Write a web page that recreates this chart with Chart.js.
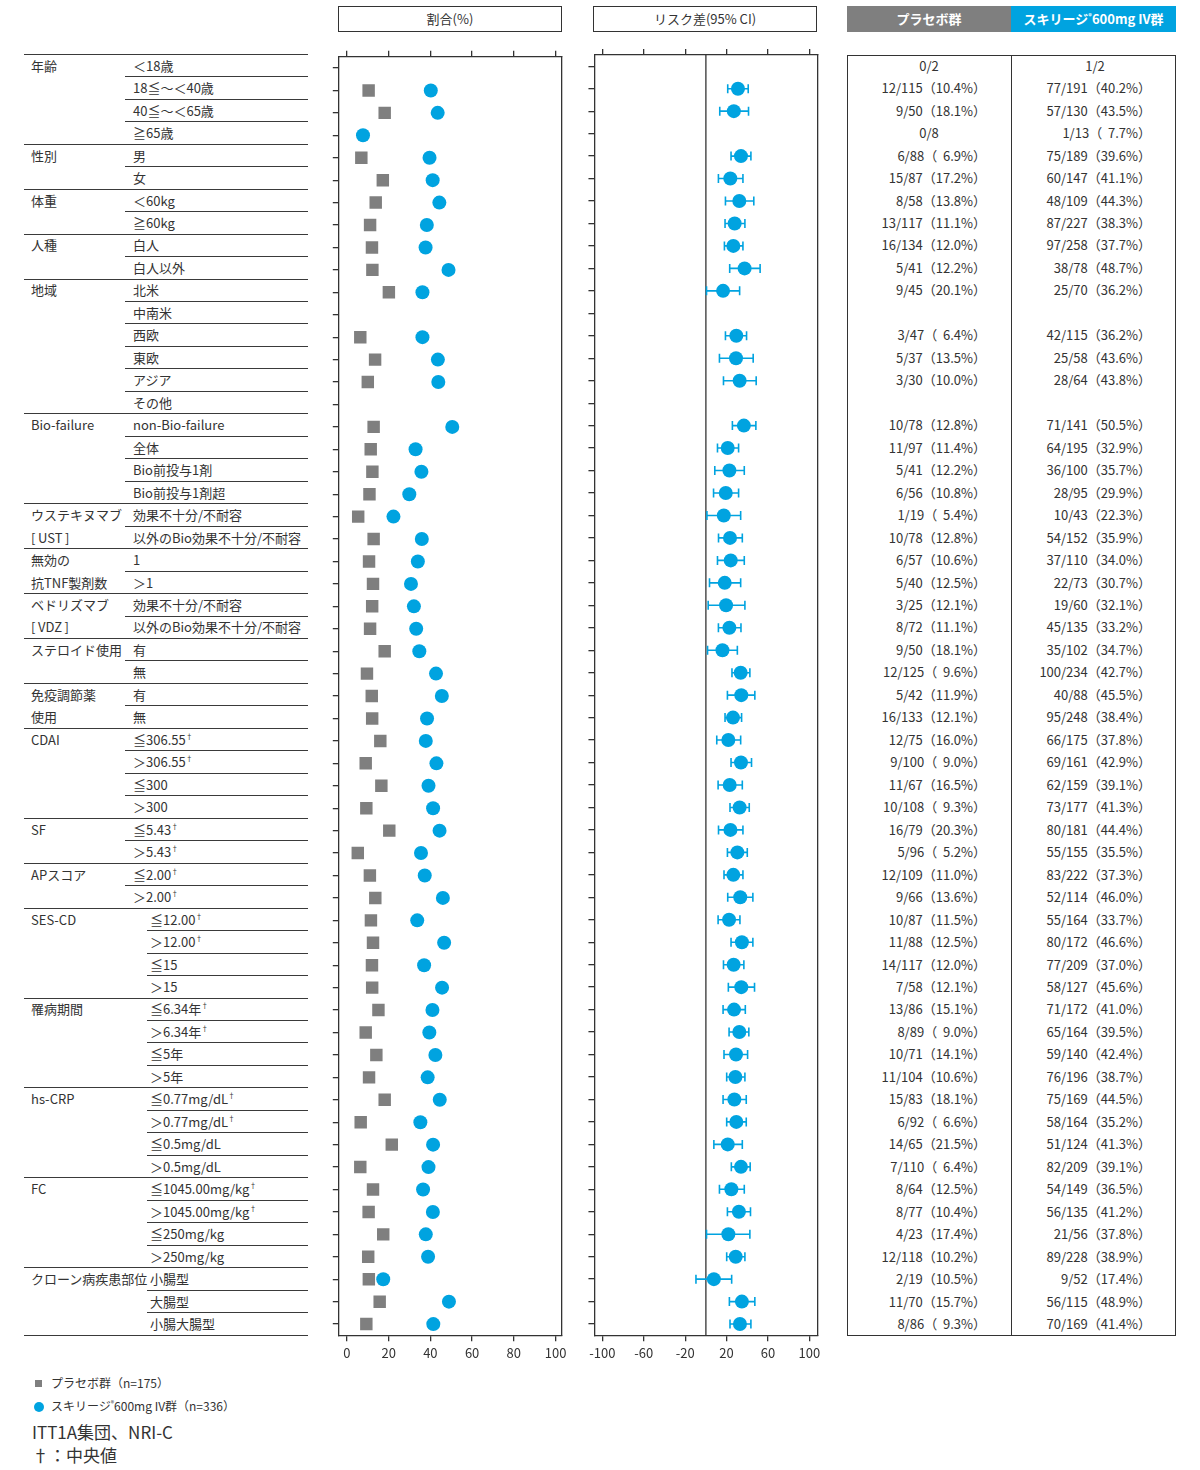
<!DOCTYPE html>
<html lang="ja">
<head>
<meta charset="utf-8">
<script src="https://cdn.jsdelivr.net/npm/chart.js@4.4.1/dist/chart.umd.min.js"></script>
<style>
  body { margin: 0; width: 1200px; height: 1470px; background: #fff; position: relative; overflow: hidden;
         font-family: "Noto Sans CJK JP", "Noto Sans", sans-serif; color: #333; }
  .abs { position: absolute; white-space: nowrap; }
  .cell { position: absolute; white-space: nowrap; font-size: 13px; line-height: 22px; height: 22px; }
  .line { position: absolute; height: 0; border-top: 1.4px solid #3a3a3a; }
  sup { font-size: 7px; vertical-align: 6px; line-height: 0; }
  canvas { position: absolute; }
</style>
</head>
<body>
<div class="abs" style="left:338px;top:6px;width:222px;height:24px;border:1.3px solid #333;text-align:center;line-height:24px;font-size:13px;">割合(%)</div>
<div class="abs" style="left:593px;top:6px;width:222px;height:24px;border:1.3px solid #333;text-align:center;line-height:24px;font-size:13px;">リスク差(95% CI)</div>
<div class="abs" style="left:847px;top:6px;width:164px;height:26px;background:#7f7f7f;color:#fff;font-weight:bold;text-align:center;line-height:26px;font-size:13px;">プラセボ群</div>
<div class="abs" style="left:1011px;top:6px;width:165px;height:26px;background:#00a3e0;color:#fff;font-weight:bold;text-align:center;line-height:26px;font-size:13px;">スキリージ<sup style="vertical-align:5px">®</sup>600mg IV群</div>
<div class="abs" style="left:847px;top:54.5px;width:327px;height:1279px;border:1.4px solid #333;"></div>
<div class="abs" style="left:1011px;top:54.5px;width:0;height:1281px;border-left:1.4px solid #333;"></div>

<div id="labels"></div>
<div id="table"></div>

<canvas id="pct" width="245" height="1316" style="left:330px;top:48px;width:245px;height:1316px;"></canvas>
<canvas id="rd" width="246" height="1316" style="left:585px;top:48px;width:246px;height:1316px;"></canvas>

<div class="abs" style="left:35px;top:1380px;width:7px;height:7px;background:#7f7f7f;"></div>
<div class="abs" style="left:51px;top:1374px;font-size:12px;line-height:18px;">プラセボ群（n=175）</div>
<div class="abs" style="left:34px;top:1402px;width:10px;height:10px;border-radius:50%;background:#00a3e0;"></div>
<div class="abs" style="left:51px;top:1397px;font-size:12px;line-height:18px;">スキリージ<sup style="vertical-align:5px">®</sup>600mg IV群（n=336）</div>
<div class="abs" style="left:32px;top:1420px;font-size:17px;line-height:24px;">ITT1A集団、NRI-C</div>
<div class="abs" style="left:32px;top:1443px;font-size:17px;line-height:24px;">†：中央値</div>

<script>
var rowLabels = ['＜18歳', '18≦～＜40歳', '40≦～＜65歳', '≧65歳', '男', '女', '＜60kg', '≧60kg', '白人', '白人以外',
  '北米', '中南米', '西欧', '東欧', 'アジア', 'その他', 'non-Bio-failure', '全体', 'Bio前投与1剤', 'Bio前投与1剤超',
  '効果不十分/不耐容', '以外のBio効果不十分/不耐容', '1', '＞1', '効果不十分/不耐容', '以外のBio効果不十分/不耐容', '有', '無', '有', '無',
  '≦306.55†', '＞306.55†', '≦300', '＞300', '≦5.43†', '＞5.43†', '≦2.00†', '＞2.00†', '≦12.00†', '＞12.00†',
  '≦15', '＞15', '≦6.34年†', '＞6.34年†', '≦5年', '＞5年', '≦0.77mg/dL†', '＞0.77mg/dL†', '≦0.5mg/dL', '＞0.5mg/dL',
  '≦1045.00mg/kg†', '＞1045.00mg/kg†', '≦250mg/kg', '＞250mg/kg', '小腸型', '大腸型', '小腸大腸型'];

var groupLabels = {0: '年齢', 4: '性別', 6: '体重', 8: '人種', 10: '地域', 16: 'Bio-failure', 20: 'ウステキヌマブ', 21: '[&thinsp;UST&thinsp;]',
  22: '無効の', 23: '抗TNF製剤数', 24: 'ベドリズマブ', 25: '[&thinsp;VDZ&thinsp;]', 26: 'ステロイド使用', 28: '免疫調節薬', 29: '使用',
  30: 'CDAI', 34: 'SF', 36: 'APスコア', 38: 'SES-CD', 42: '罹病期間', 46: 'hs-CRP', 50: 'FC', 54: 'クローン病疾患部位'};
var groupStarts = [0, 4, 6, 8, 10, 16, 20, 22, 24, 26, 28, 30, 34, 36, 38, 42, 46, 50, 54];
var indentedFrom = 38;

var pboCount = [0, 12, 9, 0, 6, 15, 8, 13, 16, 5, 9, null, 3, 5, 3, null, 10, 11, 5, 6,
  1, 10, 6, 5, 3, 8, 9, 12, 5, 16, 12, 9, 11, 10, 16, 5, 12, 9, 10, 11,
  14, 7, 13, 8, 10, 11, 15, 6, 14, 7, 8, 8, 4, 12, 2, 11, 8];
var pboTotal = [2, 115, 50, 8, 88, 87, 58, 117, 134, 41, 45, null, 47, 37, 30, null, 78, 97, 41, 56,
  19, 78, 57, 40, 25, 72, 50, 125, 42, 133, 75, 100, 67, 108, 79, 96, 109, 66, 87, 88,
  117, 58, 86, 89, 71, 104, 83, 92, 65, 110, 64, 77, 23, 118, 19, 70, 86];
var pboPct = [null, 10.4, 18.1, null, 6.9, 17.2, 13.8, 11.1, 12.0, 12.2, 20.1, null, 6.4, 13.5, 10.0, null, 12.8, 11.4, 12.2, 10.8,
  5.4, 12.8, 10.6, 12.5, 12.1, 11.1, 18.1, 9.6, 11.9, 12.1, 16.0, 9.0, 16.5, 9.3, 20.3, 5.2, 11.0, 13.6, 11.5, 12.5,
  12.0, 12.1, 15.1, 9.0, 14.1, 10.6, 18.1, 6.6, 21.5, 6.4, 12.5, 10.4, 17.4, 10.2, 10.5, 15.7, 9.3];

var actCount = [1, 77, 57, 1, 75, 60, 48, 87, 97, 38, 25, null, 42, 25, 28, null, 71, 64, 36, 28,
  10, 54, 37, 22, 19, 45, 35, 100, 40, 95, 66, 69, 62, 73, 80, 55, 83, 52, 55, 80,
  77, 58, 71, 65, 59, 76, 75, 58, 51, 82, 54, 56, 21, 89, 9, 56, 70];
var actTotal = [2, 191, 130, 13, 189, 147, 109, 227, 258, 78, 70, null, 115, 58, 64, null, 141, 195, 100, 95,
  43, 152, 110, 73, 60, 135, 102, 234, 88, 248, 175, 161, 159, 177, 181, 155, 222, 114, 164, 172,
  209, 127, 172, 164, 140, 196, 169, 164, 124, 209, 149, 135, 56, 228, 52, 115, 169];
var actPct = [null, 40.2, 43.5, 7.7, 39.6, 41.1, 44.3, 38.3, 37.7, 48.7, 36.2, null, 36.2, 43.6, 43.8, null, 50.5, 32.9, 35.7, 29.9,
  22.3, 35.9, 34.0, 30.7, 32.1, 33.2, 34.7, 42.7, 45.5, 38.4, 37.8, 42.9, 39.1, 41.3, 44.4, 35.5, 37.3, 46.0, 33.7, 46.6,
  37.0, 45.6, 41.0, 39.5, 42.4, 38.7, 44.5, 35.2, 41.3, 39.1, 36.5, 41.2, 37.8, 38.9, 17.4, 48.9, 41.4];

// risk difference and 95% CI
var riskDiff = [null, 31.0, 27.0, null, 33.9, 23.6, 32.3, 27.8, 26.5, 37.4, 16.6, null, 29.4, 29.1, 32.6, null, 36.7, 21.1, 22.7, 19.2,
  17.3, 23.3, 24.0, 18.2, 19.5, 22.7, 16.0, 33.6, 34.2, 26.2, 21.7, 33.9, 23.0, 32.6, 23.7, 30.4, 26.5, 33.2, 22.4, 34.8,
  26.8, 34.2, 27.2, 32.3, 29.1, 28.5, 27.5, 29.4, 21.1, 33.9, 24.6, 31.9, 21.7, 28.8, 7.7, 34.8, 32.9];
var ciLow = [null, 21.1, 13.4, null, 24.3, 12.1, 18.9, 18.5, 17.9, 23.0, 0.6, null, 18.9, 13.1, 17.0, null, 25.6, 11.2, 8.6, 7.4,
  1.0, 12.2, 11.2, 3.5, 2.2, 12.1, 1.6, 25.2, 20.8, 18.5, 10.5, 24.3, 11.8, 23.3, 12.2, 20.8, 17.5, 21.1, 11.8, 24.3,
  17.0, 21.7, 16.6, 22.4, 17.5, 20.1, 16.6, 20.1, 7.7, 24.6, 13.1, 20.8, 0.6, 20.1, -9.6, 22.7, 23.3];
var ciHigh = [null, 40.9, 41.2, null, 43.5, 35.8, 46.3, 37.7, 35.8, 52.4, 32.6, null, 39.3, 45.7, 48.6, null, 48.3, 31.6, 37.1, 31.6,
  33.6, 35.2, 37.1, 33.6, 37.7, 33.9, 30.4, 42.5, 47.3, 34.5, 33.6, 44.1, 35.2, 41.9, 35.8, 40.0, 35.8, 45.4, 32.9, 45.4,
  36.7, 47.0, 38.1, 41.5, 40.3, 37.7, 39.0, 39.0, 35.2, 42.8, 37.1, 43.1, 42.5, 37.7, 24.9, 47.3, 43.5];

var pctTicks = [0, 20, 40, 60, 80, 100];
var rdTicks = [-100, -60, -20, 20, 60, 100];

var BLUE = '#00a3e0', GREY = '#7f7f7f', INK = '#333';
var TOP = 54.5, BOTTOM = 1335.3, ROW_H = (BOTTOM - TOP) / rowLabels.length;
function rowY(i) { return TOP + (i + 0.5) * ROW_H; }
function sup(t) { return t.replace('†', '<sup>†</sup>'); }

// left labels and separator lines
var lab = '';
rowLabels.forEach(function (t, i) {
  var indent = i >= indentedFrom;
  var top = rowY(i) - 11;
  if (groupLabels[i]) lab += '<div class="cell" style="left:31px;top:' + top + 'px">' + groupLabels[i] + '</div>';
  lab += '<div class="cell" style="left:' + (indent ? 150 : 133) + 'px;top:' + top + 'px">' + sup(t) + '</div>';
  var lineY = TOP + i * ROW_H;
  var x0 = groupStarts.indexOf(i) >= 0 ? 23.5 : (indent ? 147 : 125);
  lab += '<div class="line" style="left:' + x0 + 'px;top:' + (lineY - 0.7) + 'px;width:' + (308 - x0) + 'px"></div>';
});
lab += '<div class="line" style="left:23.5px;top:' + (BOTTOM - 0.7) + 'px;width:284.5px"></div>';
document.getElementById('labels').innerHTML = lab;

// right-hand table
function cellText(n, tot, p) {
  if (n == null) return '';
  if (p == null) return n + '/' + tot;
  var ps = p.toFixed(1);
  return n + '/' + tot + '（' + (p < 10 ? '&nbsp;&nbsp;' : '') + ps + '%）';
}
var tab = '';
rowLabels.forEach(function (t, i) {
  var top = rowY(i) - 11;
  var a = cellText(pboCount[i], pboTotal[i], pboPct[i]);
  var b = cellText(actCount[i], actTotal[i], actPct[i]);
  if (pboPct[i] == null) tab += '<div class="cell" style="left:879px;width:100px;text-align:center;top:' + top + 'px">' + a + '</div>';
  else tab += '<div class="cell" style="right:' + (1200 - 986) + 'px;top:' + top + 'px">' + a + '</div>';
  if (actPct[i] == null) tab += '<div class="cell" style="left:1045px;width:100px;text-align:center;top:' + top + 'px">' + b + '</div>';
  else tab += '<div class="cell" style="right:' + (1200 - 1151) + 'px;top:' + top + 'px">' + b + '</div>';
});
document.getElementById('table').innerHTML = tab;

function points(values) {
  var out = [];
  values.forEach(function (v, i) { if (v != null) out.push({x: v, y: i}); });
  return out;
}

function scaleSet(min, max, ticks, leftW, rightW) {
  var rowTicks = rowLabels.map(function (_, i) { return {value: i}; });
  var grid = {display: true, drawOnChartArea: false, drawTicks: true, tickLength: 6, color: INK, lineWidth: 1.3};
  var border = {display: true, color: INK, width: 1.3};
  return {
    x: {type: 'linear', position: 'bottom', min: min, max: max,
        afterBuildTicks: function (s) { s.ticks = ticks.map(function (v) { return {value: v}; }); },
        afterFit: function (s) { s.height = 28.7; },
        grid: grid, border: border,
        ticks: {color: INK, padding: 4, maxRotation: 0, font: {size: 13, family: '"Noto Sans CJK JP", sans-serif'}}},
    xTop: {type: 'linear', position: 'top', min: min, max: max,
        afterBuildTicks: function (s) { s.ticks = ticks.map(function (v) { return {value: v}; }); },
        afterFit: function (s) { s.height = 6.5; },
        grid: grid, border: border, ticks: {display: false}},
    y: {type: 'linear', position: 'left', min: -0.5, max: rowLabels.length - 0.5, reverse: true,
        afterBuildTicks: function (s) { s.ticks = rowTicks; },
        afterFit: function (s) { s.width = leftW; },
        grid: grid, border: border, ticks: {display: false}},
    yRight: {type: 'linear', position: 'right', min: -0.5, max: rowLabels.length - 0.5,
        afterFit: function (s) { s.width = rightW; },
        grid: {display: true, drawOnChartArea: false, drawTicks: false}, border: border, ticks: {display: false}}
  };
}

var common = {
  responsive: false, animation: false,
  layout: {padding: 0},
  plugins: {legend: {display: false}, tooltip: {enabled: false}}
};

new Chart(document.getElementById('pct'), {
  type: 'scatter',
  data: {datasets: [
    {label: 'スキリージ600mg IV群', data: points(actPct), pointStyle: 'circle', pointRadius: 7,
     backgroundColor: BLUE, borderWidth: 0},
    {label: 'プラセボ群', data: points(pboPct), pointStyle: 'rect', pointRadius: 8.8,
     backgroundColor: GREY, borderWidth: 0}
  ]},
  options: Object.assign({}, common, {scales: scaleSet(-3.9, 103.1, pctTicks, 7.3, 13)})
});

var errorBars = {
  id: 'errorBars',
  beforeDatasetsDraw: function (chart) {
    var ctx = chart.ctx, xs = chart.scales.x, ys = chart.scales.y, area = chart.chartArea;
    ctx.save();
    var x0 = xs.getPixelForValue(0);
    ctx.strokeStyle = INK; ctx.lineWidth = 1.3;
    ctx.beginPath(); ctx.moveTo(x0, area.top); ctx.lineTo(x0, area.bottom); ctx.stroke();
    ctx.strokeStyle = BLUE; ctx.lineWidth = 1.6;
    riskDiff.forEach(function (v, i) {
      if (v == null) return;
      var x1 = xs.getPixelForValue(ciLow[i]), x2 = xs.getPixelForValue(ciHigh[i]), y = ys.getPixelForValue(i);
      ctx.beginPath();
      ctx.moveTo(x1, y); ctx.lineTo(x2, y);
      ctx.moveTo(x1, y - 4.5); ctx.lineTo(x1, y + 4.5);
      ctx.moveTo(x2, y - 4.5); ctx.lineTo(x2, y + 4.5);
      ctx.stroke();
    });
    ctx.restore();
  }
};

new Chart(document.getElementById('rd'), {
  type: 'scatter',
  data: {datasets: [
    {label: 'リスク差', data: points(riskDiff), pointStyle: 'circle', pointRadius: 7,
     backgroundColor: BLUE, borderWidth: 0}
  ]},
  options: Object.assign({}, common, {scales: scaleSet(-107.7, 108.05, rdTicks, 7.7, 13.3)}),
  plugins: [errorBars]
});
</script>
</body>
</html>
